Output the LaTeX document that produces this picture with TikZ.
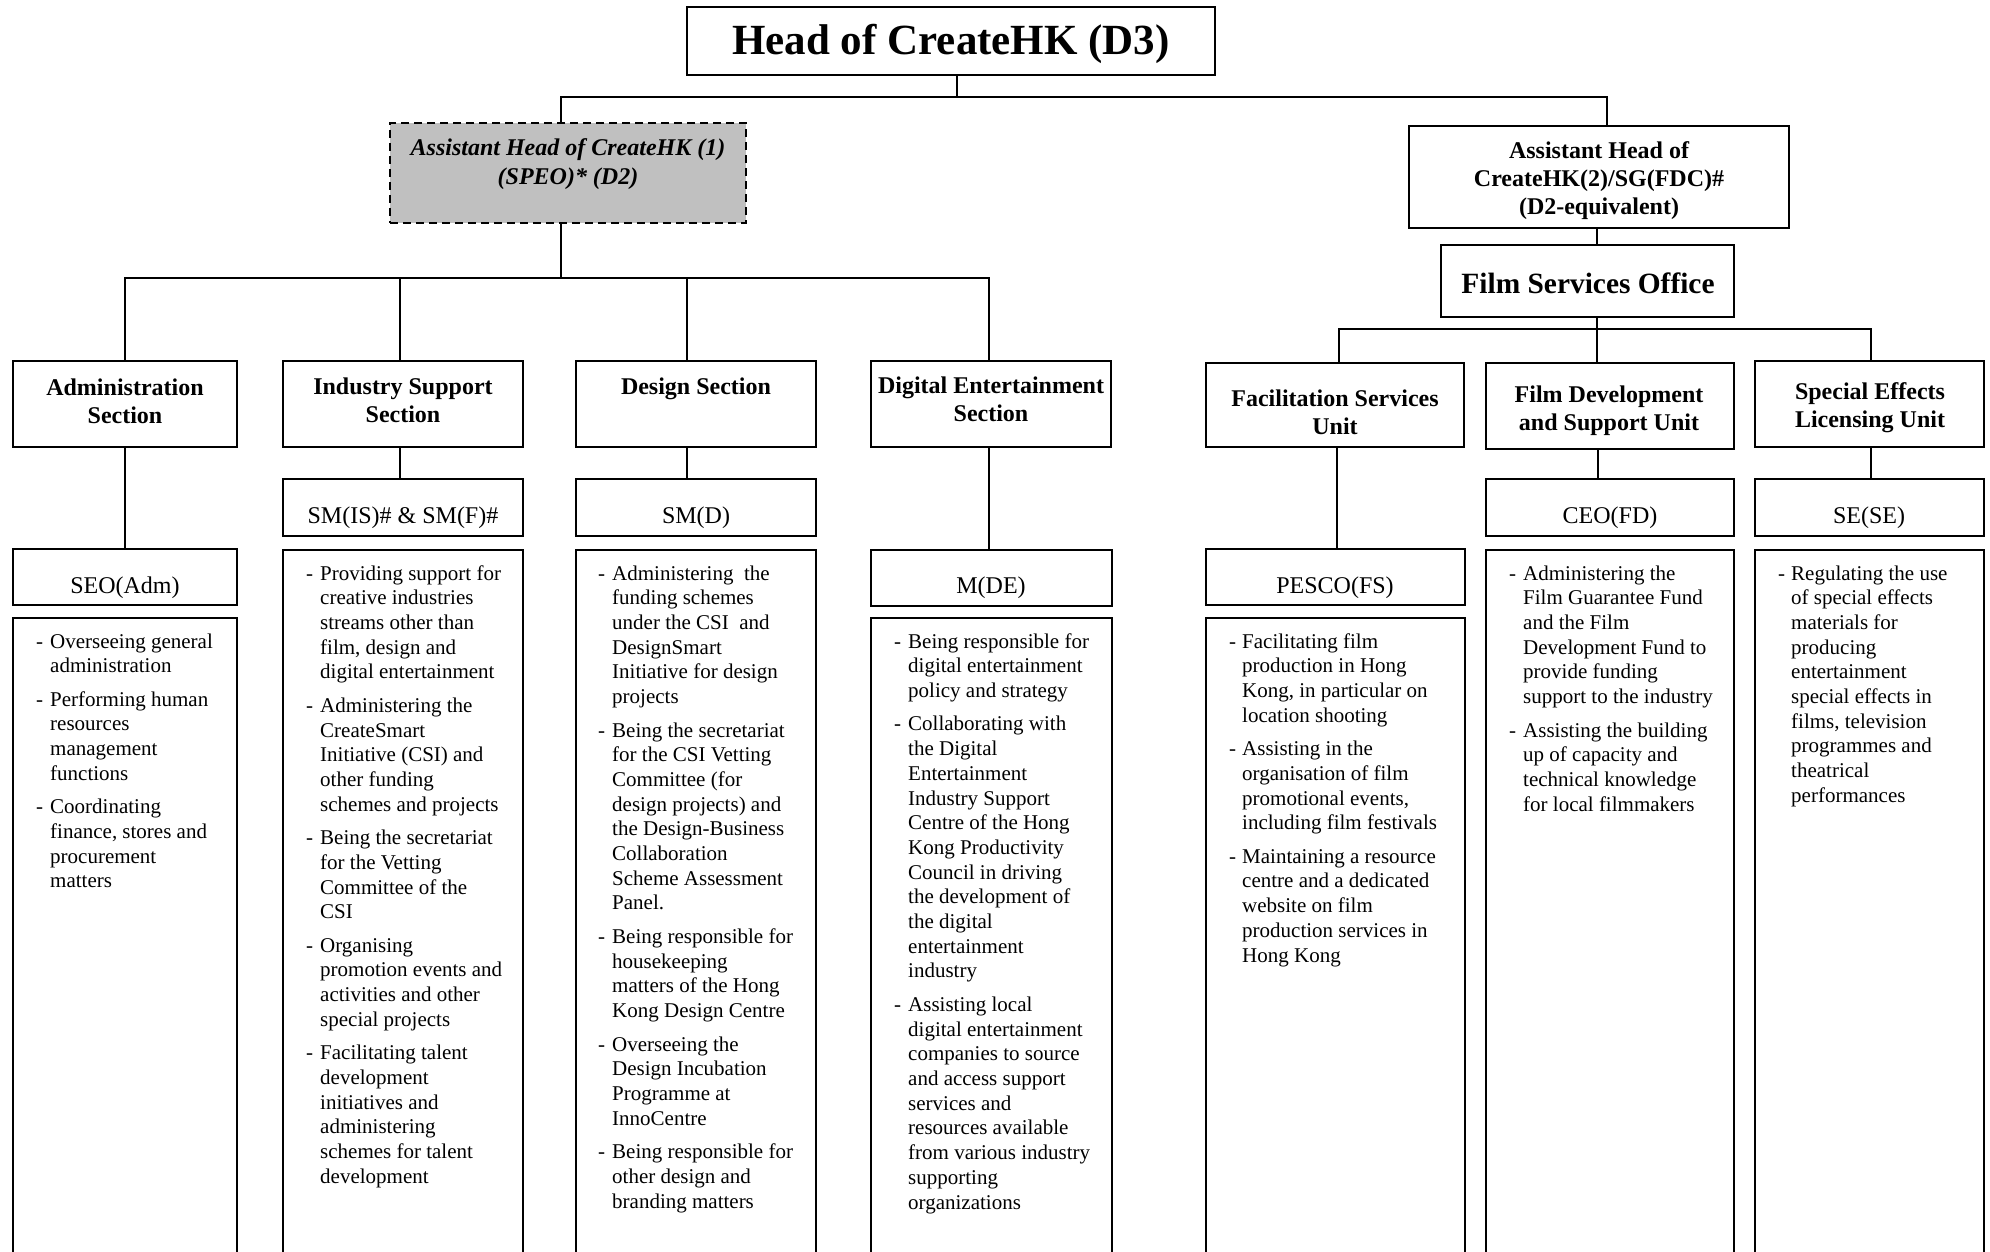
\documentclass[tikz,border=0pt]{standalone}
\usepackage{fontspec}
\setmainfont{Liberation Serif}
\newcommand\bul{\makebox[14pt][l]{-}}
\definecolor{agray}{HTML}{C0C0C0}
\begin{document}
\begin{tikzpicture}[x=1pt,y=-1pt,
  box/.style={draw, line width=1.8pt, inner sep=0pt},
  dbox/.style={draw, line width=2.4pt, dash pattern=on 8pt off 5pt, fill=agray, inner sep=0pt},
  conn/.style={line width=1.8pt},
  ttl/.style={font=\fontsize{24}{28}\selectfont\bfseries, align=center, inner sep=0pt},
  post/.style={font=\fontsize{24}{28}\selectfont, inner sep=0pt},
  desc/.style={font=\fontsize{21}{24.7}\selectfont, inner sep=0pt, anchor=base west}]
\clip (0,0) rectangle (1990,1252);
\fill[white] (0,0) rectangle (1990,1252);

% ---------- boxes ----------
\node[box, minimum width=528pt, minimum height=68pt] (head) at (951,41) {};
\node[dbox, minimum width=356pt, minimum height=100pt] (ah1) at (568,173) {};
\node[box, minimum width=380pt, minimum height=102pt] (ah2) at (1599,177) {};
\node[box, minimum width=293pt, minimum height=72pt] (fso) at (1587.5,281) {};

\node[box, minimum width=224pt, minimum height=86pt] (admin) at (125,404) {};
\node[box, minimum width=240pt, minimum height=86pt] (sis) at (403,404) {};
\node[box, minimum width=240pt, minimum height=86pt] (design) at (696,404) {};
\node[box, minimum width=240pt, minimum height=86pt] (de) at (991,404) {};
\node[box, minimum width=258pt, minimum height=84pt] (fsu) at (1335,405) {};
\node[box, minimum width=248pt, minimum height=86pt] (fdsu) at (1610,406) {};
\node[box, minimum width=229pt, minimum height=86pt] (selu) at (1869.5,404) {};

\node[box, minimum width=224pt, minimum height=56pt] (seo) at (125,577) {};
\node[box, minimum width=240pt, minimum height=57pt] (smis) at (403,507.5) {};
\node[box, minimum width=240pt, minimum height=57pt] (smd) at (696,507.5) {};
\node[box, minimum width=241pt, minimum height=56pt] (mde) at (991.5,578) {};
\node[box, minimum width=259pt, minimum height=56pt] (pesco) at (1335.5,577) {};
\node[box, minimum width=248pt, minimum height=57pt] (ceo) at (1610,507.5) {};
\node[box, minimum width=229pt, minimum height=57pt] (se) at (1869.5,507.5) {};

\node[box, minimum width=224pt, minimum height=647pt] (dadmin) at (125,941.5) {};
\node[box, minimum width=240pt, minimum height=715pt] (dsis) at (403,907.5) {};
\node[box, minimum width=240pt, minimum height=715pt] (ddesign) at (696,907.5) {};
\node[box, minimum width=241pt, minimum height=647pt] (dde) at (991.5,941.5) {};
\node[box, minimum width=259pt, minimum height=647pt] (dfsu) at (1335.5,941.5) {};
\node[box, minimum width=248pt, minimum height=715pt] (dfdsu) at (1610,907.5) {};
\node[box, minimum width=229pt, minimum height=715pt] (dselu) at (1869.5,907.5) {};

% ---------- connectors ----------
\coordinate (topbus) at (957,97);
\draw[conn] ([xshift=6pt]head.south) -- (topbus);
\draw[conn] ([xshift=-7pt]ah1.north) |- (topbus) -| ([xshift=8pt]ah2.north);
\coordinate (secbus) at (561,278);
\draw[conn] ([xshift=-7pt]ah1.south) -- (secbus);
\draw[conn] (admin.north) |- (secbus) -| ([xshift=-2pt]de.north);
\draw[conn] ([xshift=-3pt]sis.north) -- ([xshift=-3pt]sis.north |- secbus);
\draw[conn] ([xshift=-9pt]design.north) -- ([xshift=-9pt]design.north |- secbus);
\draw[conn] ([xshift=-2pt]ah2.south) -- ([xshift=-2pt]ah2.south |- fso.north);
\coordinate (fbus) at (1597,329);
\draw[conn] (fso.south -| fbus) -- (fbus);
\draw[conn] ([xshift=4pt]fsu.north) |- (fbus) -| ([xshift=1.5pt]selu.north);
\draw[conn] (fbus) -- (fbus |- fdsu.north);

\draw[conn] (admin.south) -- (seo.north);
\draw[conn] ([xshift=-3pt]sis.south) -- ([xshift=-3pt]sis.south |- smis.north);
\draw[conn] ([xshift=-9pt]design.south) -- ([xshift=-9pt]design.south |- smd.north);
\draw[conn] ([xshift=-2pt]de.south) -- ([xshift=-2pt]de.south |- mde.north);
\draw[conn] ([xshift=2pt]fsu.south) -- ([xshift=2pt]fsu.south |- pesco.north);
\draw[conn] ([xshift=-12pt]fdsu.south) -- ([xshift=-12pt]fdsu.south |- ceo.north);
\draw[conn] ([xshift=1.5pt]selu.south) -- ([xshift=1.5pt]selu.south |- se.north);

% ---------- titles ----------
\node[ttl, font=\fontsize{43}{50}\selectfont\bfseries] (t-head) at (951,44) {Head of CreateHK (D3)};
\node[ttl, font=\fontsize{24}{29}\selectfont\bfseries\itshape] (t-ah1) at (568,164) {Assistant Head of CreateHK (1)\\(SPEO)* (D2)};
\node[ttl] (t-ah2) at (1599,181) {Assistant Head of\\CreateHK(2)/SG(FDC)\#\\(D2-equivalent)};
\node[ttl, font=\fontsize{29.4}{34}\selectfont\bfseries] (t-fso) at (1588,283) {Film Services Office};

\node[ttl] (t-admin) at (125,401) {Administration\\Section};
\node[ttl] (t-sis) at (403,400) {Industry Support\\Section};
\node[ttl] (t-design) at (696,389) {Design Section};
\node[ttl] (t-de) at (991,399) {Digital Entertainment\\Section};
\node[ttl] (t-fsu) at (1335,412) {Facilitation Services\\Unit};
\node[ttl] (t-fdsu) at (1609,411) {Film Development\\and Support Unit};
\node[ttl] (t-selu) at (1870,408) {Special Effects\\Licensing Unit};

\node[post] (t-seo) at (125,587.5) {SEO(Adm)};
\node[post] (t-smis) at (403,517.5) {SM(IS)\# \& SM(F)\#};
\node[post] (t-smd) at (696,517.5) {SM(D)};
\node[post] (t-mde) at (991,587.5) {M(DE)};
\node[post] (t-pesco) at (1335,587.5) {PESCO(FS)};
\node[post] (t-ceo) at (1610,517.5) {CEO(FD)};
\node[post] (t-se) at (1869,517.5) {SE(SE)};

% ---------- descriptions ----------
\node[desc] (x-admin) at (36,648) {\begin{tabular}[t]{@{}l@{}l@{}}
\bul & Overseeing general\\
 & administration\\[8.8pt]
\bul & Performing human\\
 & resources\\
 & management\\
 & functions\\[8.8pt]
\bul & Coordinating\\
 & finance, stores and\\
 & procurement\\
 & matters
\end{tabular}};

\node[desc] (x-sis) at (306,580) {\begin{tabular}[t]{@{}l@{}l@{}}
\bul & Providing support for\\
 & creative industries\\
 & streams other than\\
 & film, design and\\
 & digital entertainment\\[8.8pt]
\bul & Administering the\\
 & CreateSmart\\
 & Initiative (CSI) and\\
 & other funding\\
 & schemes and projects\\[8.8pt]
\bul & Being the secretariat\\
 & for the Vetting\\
 & Committee of the\\
 & CSI\\[8.8pt]
\bul & Organising\\
 & promotion events and\\
 & activities and other\\
 & special projects\\[8.8pt]
\bul & Facilitating talent\\
 & development\\
 & initiatives and\\
 & administering\\
 & schemes for talent\\
 & development
\end{tabular}};

\node[desc] (x-design) at (598,580) {\begin{tabular}[t]{@{}l@{}l@{}}
\bul & Administering~ the\\
 & funding schemes\\
 & under the CSI~ and\\
 & DesignSmart\\
 & Initiative for design\\
 & projects\\[8.8pt]
\bul & Being the secretariat\\
 & for the CSI Vetting\\
 & Committee (for\\
 & design projects) and\\
 & the Design-Business\\
 & Collaboration\\
 & Scheme Assessment\\
 & Panel.\\[8.8pt]
\bul & Being responsible for\\
 & housekeeping\\
 & matters of the Hong\\
 & Kong Design Centre\\[8.8pt]
\bul & Overseeing the\\
 & Design Incubation\\
 & Programme at\\
 & InnoCentre\\[8.8pt]
\bul & Being responsible for\\
 & other design and\\
 & branding matters
\end{tabular}};

\node[desc] (x-de) at (894,648) {\begin{tabular}[t]{@{}l@{}l@{}}
\bul & Being responsible for\\
 & digital entertainment\\
 & policy and strategy\\[8.8pt]
\bul & Collaborating with\\
 & the Digital\\
 & Entertainment\\
 & Industry Support\\
 & Centre of the Hong\\
 & Kong Productivity\\
 & Council in driving\\
 & the development of\\
 & the digital\\
 & entertainment\\
 & industry\\[8.8pt]
\bul & Assisting local\\
 & digital entertainment\\
 & companies to source\\
 & and access support\\
 & services and\\
 & resources available\\
 & from various industry\\
 & supporting\\
 & organizations
\end{tabular}};

\node[desc] (x-fsu) at (1229,648) {\begin{tabular}[t]{@{}l@{}l@{}}
\makebox[13pt][l]{-} & Facilitating film\\
 & production in Hong\\
 & Kong, in particular on\\
 & location shooting\\[8.8pt]
\makebox[13pt][l]{-} & Assisting in the\\
 & organisation of film\\
 & promotional events,\\
 & including film festivals\\[8.8pt]
\makebox[13pt][l]{-} & Maintaining a resource\\
 & centre and a dedicated\\
 & website on film\\
 & production services in\\
 & Hong Kong
\end{tabular}};

\node[desc] (x-fdsu) at (1509,580) {\begin{tabular}[t]{@{}l@{}l@{}}
\bul & Administering the\\
 & Film Guarantee Fund\\
 & and the Film\\
 & Development Fund to\\
 & provide funding\\
 & support to the industry\\[8.8pt]
\bul & Assisting the building\\
 & up of capacity and\\
 & technical knowledge\\
 & for local filmmakers
\end{tabular}};

\node[desc] (x-selu) at (1778,580) {\begin{tabular}[t]{@{}l@{}l@{}}
\makebox[13pt][l]{-} & Regulating the use\\
 & of special effects\\
 & materials for\\
 & producing\\
 & entertainment\\
 & special effects in\\
 & films, television\\
 & programmes and\\
 & theatrical\\
 & performances
\end{tabular}};
\end{tikzpicture}
\end{document}
